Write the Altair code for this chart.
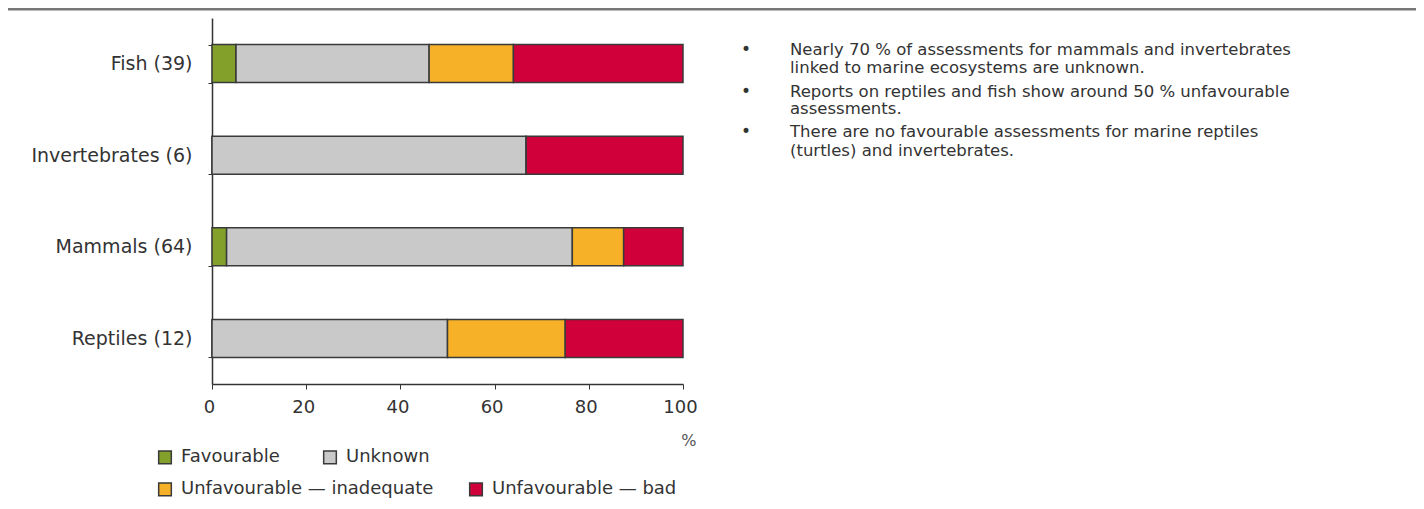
import altair as alt
import pandas as pd

groups = ["Fish (39)", "Invertebrates (6)", "Mammals (64)", "Reptiles (12)"]
statuses = ["Favourable", "Unknown", "Unfavourable \u2014 inadequate", "Unfavourable \u2014 bad"]
colors = ["#82a02a", "#c9c9c9", "#f6b128", "#d0003a"]
favourable = [5.1, 0.0, 3.1, 0.0]
unknown = [41.0, 66.7, 73.4, 50.0]
inadequate = [17.9, 0.0, 10.9, 25.0]
bad = [36.0, 33.3, 12.6, 25.0]
x_ticks = [0, 20, 40, 60, 80, 100]
notes = [
    "Nearly 70 % of assessments for mammals and invertebrates",
    "linked to marine ecosystems are unknown.",
    "Reports on reptiles and fish show around 50 % unfavourable",
    "assessments.",
    "There are no favourable assessments for marine reptiles",
    "(turtles) and invertebrates.",
]
bullet_lines = [0, 2, 4]

FONT = "DejaVu Sans"
TXT = "#333333"
AX = "#333333"
rows = []
for i, g in enumerate(groups):
    for j, (s, vals) in enumerate(zip(statuses, [favourable, unknown, inadequate, bad])):
        rows.append({"group": g, "status": s, "order": j, "value": vals[i]})
df = pd.DataFrame(rows)

y_enc = alt.Y("group:N", sort=groups,
              scale=alt.Scale(paddingInner=0.585, paddingOuter=0.29),
              axis=alt.Axis(title=None, tickBand="extent", tickSize=4, labelFontSize=19,
                            labelFont=FONT, labelColor=TXT, labelPadding=16, labelLimit=0,
                            domainColor=AX, tickColor=AX, domainWidth=1.5))
x_enc = alt.X("start:Q",
              scale=alt.Scale(domain=[0, 100], nice=False),
              axis=alt.Axis(values=x_ticks, title="%", titleAnchor="end", titleAlign="right",
                            titleX=484, titleY=48, titleFont=FONT, titleFontSize=16,
                            titleFontWeight="normal", titleColor="#555555",
                            labelFontSize=18, labelFont=FONT, labelColor=TXT,
                            labelPadding=9, labelFlush=False, labelOffset=-3, tickSize=5,
                            grid=False, domainColor=AX, tickColor=AX, domainWidth=1.5))

base = alt.Chart(df).transform_stack(
    stack="value", groupby=["group"], as_=["start", "end"],
    sort=[alt.SortField("order", order="ascending")],
)

leg_common = dict(title=None, orient="none", direction="horizontal", symbolType="square",
                  symbolSize=160, symbolStrokeColor="#3a3a3a", symbolStrokeWidth=1.5,
                  labelFont=FONT, labelFontSize=18, labelColor=TXT, labelOffset=7,
                  labelLimit=0)

row1 = base.transform_filter(
    alt.FieldOneOfPredicate(field="status", oneOf=statuses[:2])
).mark_bar(stroke="#3a3a3a", strokeWidth=1.5).encode(
    y=y_enc, x=x_enc, x2="end:Q",
    fill=alt.Fill("status:N", sort=statuses[:2],
                  scale=alt.Scale(domain=statuses[:2], range=colors[:2]),
                  legend=alt.Legend(legendX=-56, legendY=430, columnPadding=40, **leg_common)),
)

row2 = base.transform_filter(
    alt.FieldOneOfPredicate(field="status", oneOf=statuses[2:])
).mark_bar(stroke="#3a3a3a", strokeWidth=1.5).encode(
    y=y_enc, x=x_enc, x2="end:Q",
    color=alt.Color("status:N", sort=statuses[2:],
                    scale=alt.Scale(domain=statuses[2:], range=colors[2:]),
                    legend=alt.Legend(legendX=-56, legendY=462, columnPadding=32, **leg_common)),
)

line_y = [32, 49.5, 73.5, 91, 114, 132.5]
notes_df = pd.DataFrame({"text": notes, "y": line_y})
text = alt.Chart(notes_df).mark_text(align="left", baseline="middle", font=FONT,
                                     fontSize=16.5, color=TXT).encode(
    x=alt.value(578), y=alt.Y("y:Q", scale=None), text="text:N")

bul_df = pd.DataFrame({"y": [line_y[i] for i in bullet_lines], "b": ["\u2022"] * 3})
bul = alt.Chart(bul_df).mark_text(align="left", baseline="middle", font=FONT,
                                  fontSize=17, color=TXT).encode(
    x=alt.value(529), y=alt.Y("y:Q", scale=None), text="b:N")

top_line = alt.Chart(pd.DataFrame({"a": [0]})).mark_rule(color="#777777", strokeWidth=3).encode(
    x=alt.value(-204), x2=alt.value(1204), y=alt.value(-9))

chart = alt.layer(row1, row2, text, bul, top_line).properties(
    width=471, height=366,
    autosize=alt.AutoSizeParams(type="none"),
    padding={"left": 204, "top": 10, "right": 733, "bottom": 117},
).configure_view(stroke=None)

chart.save("out.html", embed_options={"renderer": "svg", "actions": False})
